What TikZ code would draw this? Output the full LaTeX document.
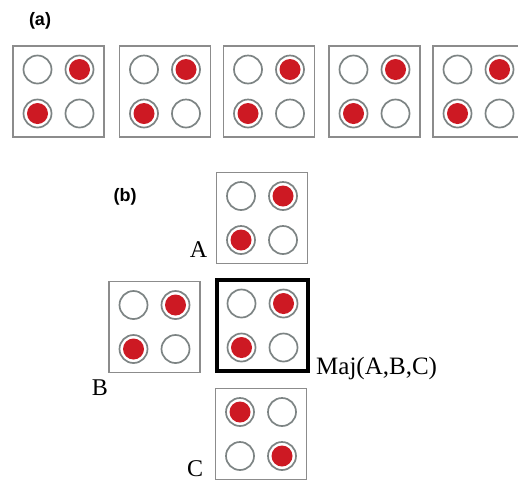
\documentclass[tikz,border=0pt]{standalone}
\usepackage{fontspec}
\setmainfont{Liberation Serif}
\newfontfamily\labelfont{Liberation Sans}
\definecolor{framegray}{RGB}{140,140,140}
\definecolor{ringgray}{RGB}{125,132,132}
\definecolor{dotred}{RGB}{205,25,35}

\tikzset{
  cellframe/.style={draw=framegray, line width=1.8pt, minimum size=91pt,
    inner sep=0pt, outer sep=0pt},
  majframe/.style={draw=black, line width=3.2pt},
  plainframe/.style={},
  hole/.style={circle, draw=ringgray, line width=1.7pt, fill=white,
    minimum size=28pt, inner sep=0pt},
  dot/.style={hole},
  dotfill/.style={circle, fill=dotred, minimum size=21pt, inner sep=0pt},
  letter/.style={font=\fontsize{24}{26}\selectfont, inner sep=0pt},
  majlabel/.style={font=\fontsize{25}{27}\selectfont, inner sep=0pt},
  partlabel/.style={font=\labelfont\bfseries\fontsize{18}{20}\selectfont, inner sep=0pt},
}

% one 2x2 cell: name, x, y, frame style, then kinds of the
% top-left, top-right, bottom-left and bottom-right sites (hole or dot)
\newcommand\cellbox[8]{%
  \node[cellframe,#4] (#1) at (#2,#3) {};
  \node[#5] (#1-tl) at ($(#1)+(-21,-22)$) {};
  \node[#6] (#1-tr) at ($(#1)+(21,-22)$) {};
  \node[#7] (#1-bl) at ($(#1)+(-21,22)$) {};
  \node[#8] (#1-br) at ($(#1)+(21,22)$) {};
  \foreach \s/\k in {tl/#5,tr/#6,bl/#7,br/#8}{%
    \ifnum\pdfstrcmp{\k}{dot}=0
      \node[dotfill] (#1-\s-fill) at (#1-\s) {};
    \fi
  }%
}

\usetikzlibrary{calc}

\begin{document}
\begin{tikzpicture}[x=1pt, y=-1pt]
  \useasboundingbox (0,0) rectangle (518,483);
  \clip (0,0) rectangle (518,483);
  \fill[white] (0,0) rectangle (518,483);

  % part (a): a row of five cells
  \node[partlabel] (la) at (40,21) {(a)};
  \cellbox{a1}{58.5}{91.5}{plainframe}{hole}{dot}{dot}{hole}
  \cellbox{a2}{165}{91.5}{plainframe}{hole}{dot}{dot}{hole}
  \cellbox{a3}{269}{91.5}{plainframe}{hole}{dot}{dot}{hole}
  \cellbox{a4}{374.5}{91.5}{plainframe}{hole}{dot}{dot}{hole}
  \cellbox{a5}{478.5}{91.5}{plainframe}{hole}{dot}{dot}{hole}

  % part (b): three inputs around their majority
  \node[partlabel] (lb) at (125,197) {(b)};
  \cellbox{A}{262}{218}{plainframe}{hole}{dot}{dot}{hole}
  \cellbox{B}{154.5}{327}{plainframe}{hole}{dot}{dot}{hole}
  \cellbox{M}{262.5}{325.5}{majframe}{hole}{dot}{dot}{hole}
  \cellbox{C}{261}{434}{plainframe}{dot}{hole}{hole}{dot}

  \node[letter] (tA) at (198.5,250) {A};
  \node[letter] (tB) at (100,388) {B};
  \node[letter] (tC) at (195,469) {C};
  \node[majlabel, anchor=west] (tM) at (316,368) {Maj(A,B,C)};
\end{tikzpicture}
\end{document}
